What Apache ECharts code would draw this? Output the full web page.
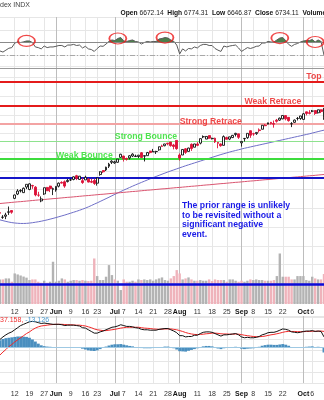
<!DOCTYPE html>
<html>
<head>
<meta charset="utf-8">
<script src="https://cdn.jsdelivr.net/npm/echarts@6/dist/echarts.min.js"></script>
<style>
html,body{margin:0;padding:0;background:#fff;}
#chart{width:324px;height:400px;}
</style>
</head>
<body>
<div id="chart"></div>
<script>
// Trading sessions (2025)
const dates = [
 '05-05','05-06','05-07','05-08','05-09','05-12','05-13','05-14','05-15','05-16',
 '05-19','05-20','05-21','05-22','05-23','05-27','05-28','05-29','05-30','06-02',
 '06-03','06-04','06-05','06-06','06-09','06-10','06-11','06-12','06-13','06-16',
 '06-17','06-18','06-20','06-23','06-24','06-25','06-26','06-27','06-30','07-01',
 '07-02','07-03','07-07','07-08','07-09','07-10','07-11','07-14','07-15','07-16',
 '07-17','07-18','07-21','07-22','07-23','07-24','07-25','07-28','07-29','07-30',
 '07-31','08-01','08-04','08-05','08-06','08-07','08-08','08-11','08-12','08-13',
 '08-14','08-15','08-18','08-19','08-20','08-21','08-22','08-25','08-26','08-27',
 '08-28','08-29','09-02','09-03','09-04','09-05','09-08','09-09','09-10','09-11',
 '09-12','09-15','09-16','09-17','09-18','09-19','09-22','09-23','09-24','09-25',
 '09-26','09-29','09-30','10-01','10-02','10-03','10-06','10-07','10-08','10-09',
 '10-10'
];

const opens = [
 5655,5606,5617,5660,5678,5808,5854,5887,5869,5929,
 5903,5945,5928,5842,5781,5855,5925,5939,5904,5897,
 5938,5978,5985,5987,6005,6010,6050,6010,5997,6005,
 6013,5988,5999,5970,6062,6105,6112,6151,6193,6187,
 6193,6246,6260,6233,6240,6260,6255,6255,6295,6259,
 6264,6313,6305,6307,6326,6368,6370,6397,6410,6378,
 6427,6271,6271,6337,6309,6385,6354,6389,6398,6466,
 6441,6478,6445,6450,6406,6389,6374,6457,6441,6457,
 6490,6497,6401,6445,6456,6530,6498,6499,6539,6546,
 6590,6600,6620,6607,6643,6643,6657,6692,6673,6604,
 6620,6661,6661,6651,6732,6722,6740,6746,6722,6754,
 6672.14
];
const highs = [
 5684,5629,5654,5721,5683,5848,5906,5906,5924,5958,
 5968,5953,5939,5878,5829,5922,5930,5943,5923,5937,
 5978,5990,5999,6016,6021,6043,6059,6046,6027,6050,
 6024,6018,6018,6030,6097,6108,6146,6187,6215,6210,
 6227,6284,6263,6243,6269,6290,6275,6272,6303,6266,
 6304,6316,6336,6316,6360,6381,6390,6401,6410,6390,
 6427,6288,6330,6345,6349,6395,6390,6409,6446,6480,
 6474,6481,6456,6456,6407,6394,6480,6467,6466,6485,
 6508,6497,6416,6453,6502,6533,6508,6513,6555,6592,
 6601,6616,6624,6639,6656,6671,6694,6693,6674,6622,
 6650,6677,6688,6718,6733,6750,6752,6749,6755,6758,
 6774.31
];
const lows = [
 5627,5589,5586,5631,5644,5800,5843,5871,5866,5907,
 5895,5910,5830,5825,5767,5845,5886,5875,5843,5879,
 5925,5966,5921,5978,5994,6001,6003,6005,5963,6005,
 5978,5971,5952,5944,6050,6080,6100,6132,6175,6177,
 6188,6240,6201,6212,6223,6249,6252,6237,6243,6202,
 6263,6286,6303,6282,6316,6360,6364,6375,6360,6331,
 6327,6212,6271,6283,6309,6315,6354,6365,6385,6451,
 6441,6443,6437,6400,6343,6360,6374,6438,6430,6452,
 6469,6443,6361,6415,6444,6454,6476,6486,6511,6546,
 6579,6599,6597,6563,6617,6636,6653,6641,6627,6569,
 6615,6640,6647,6650,6694,6705,6728,6699,6714,6719,
 6646.87
];
const closes = [
 5650,5607,5631,5664,5660,5844,5886,5892,5916,5958,
 5963,5940,5845,5842,5802,5922,5889,5912,5912,5936,
 5970,5971,5939,6000,6006,6038,6022,6045,5977,6033,
 5982,5981,5967,6025,6092,6092,6141,6173,6205,6198,
 6227,6279,6230,6226,6263,6280,6260,6269,6244,6264,
 6297,6297,6306,6309,6359,6363,6389,6390,6371,6362,
 6339,6238,6330,6299,6345,6340,6389,6374,6446,6466,
 6469,6450,6449,6411,6396,6370,6467,6439,6465,6481,
 6502,6460,6416,6448,6502,6482,6495,6512,6532,6588,
 6584,6615,6607,6600,6631,6664,6693,6657,6638,6605,
 6644,6661,6688,6711,6715,6716,6740,6715,6754,6735,
 6734.11
];
// Volume (millions of shares)
const volumes = [
 3450,3450,3590,3590,3130,4290,4150,4000,3850,3700,
 3360,3450,3450,3130,2990,3270,2990,3130,5930,3130,
 3270,3590,3450,3130,3270,3360,3360,3270,3360,3270,
 3220,3270,6390,3920,3360,3360,3830,5460,4060,3450,
 3270,1960,3450,3130,3130,3270,3130,3450,3360,3450,
 3360,3450,3270,3450,3590,3730,3360,3270,3590,3920,
 4760,4290,3450,3590,3730,3450,3270,3270,3360,3270,
 3270,3450,3220,3450,3360,3360,3360,3130,3450,3450,
 3270,3130,3270,3130,3270,3450,3360,3450,3360,3360,
 3270,3270,3270,3360,3920,7090,3830,3830,3830,3450,
 3450,3920,3920,3920,3360,3270,3830,3590,3450,3450,
 4200
];
const sma50 = [
 5578,5570,5562,5555,5549,5545,5542,5540,5540,5541,
 5544,5548,5553,5558,5564,5571,5578,5586,5594,5603,
 5612,5621,5630,5640,5650,5660,5670,5681,5692,5704,
 5717,5731,5746,5760,5775,5790,5805,5820,5836,5851,
 5866,5881,5896,5910,5924,5938,5952,5965,5978,5991,
 6004,6017,6030,6042,6054,6066,6078,6090,6101,6112,
 6123,6134,6145,6156,6166,6176,6186,6196,6206,6216,
 6226,6236,6246,6256,6266,6276,6285,6294,6303,6311,
 6319,6327,6335,6343,6350,6357,6364,6371,6378,6385,
 6392,6399,6406,6413,6420,6427,6434,6441,6448,6455,
 6462,6469,6476,6483,6490,6497,6505,6513,6521,6529,
 6536
];
const sma200 = [
 5753,5756,5759,5762,5765,5768,5771,5773,5776,5779,
 5782,5785,5788,5791,5793,5796,5799,5802,5805,5807,
 5810,5813,5816,5819,5821,5824,5827,5830,5833,5836,
 5838,5841,5844,5847,5850,5852,5855,5858,5861,5864,
 5867,5869,5872,5875,5878,5881,5883,5886,5889,5892,
 5895,5897,5900,5903,5906,5909,5911,5914,5917,5920,
 5923,5925,5928,5931,5934,5937,5939,5942,5945,5948,
 5951,5953,5956,5959,5962,5965,5967,5970,5973,5976,
 5979,5981,5984,5987,5990,5993,5995,5998,6001,6004,
 6007,6009,6012,6015,6018,6021,6023,6026,6029,6032,
 6035,6037,6040,6043,6046,6049,6051,6054,6057,6060,
 6063
];
// RSI(14)
const rsi = [
 56.7,55,58,61,62,69,71,70,71,72.4,
 72.4,70,63,62,60,64.5,62,63,63,64,
 65.3,65.3,63,66,66,67,65.3,66,61.4,64,
 60,59,56,60.6,64.5,64,67.6,71.6,74,73,
 76.3,77.8,72.4,71.6,73,74,71.6,70.8,67.6,70,
 71.6,70.8,71.6,71.6,75.5,76.3,77.8,77,74,71.6,
 66,52,60,56.7,60.6,60,63,61.4,65.3,67,
 67,65.3,65.3,60.6,58,56,64.5,63,64.5,65.3,
 66,61.4,56,59,62,60.6,62,64,64.5,69.2,
 69.2,71.6,70.8,70.8,74,77,77.8,73,67,64,
 67,68.4,70.8,72.4,73,73,74.7,70.8,74,71.6,
 50
];
// MACD(12,26,9)
const macd = [
 18,24,29,33,36,41,46,51,54,57,
 60,61,60,58,56,57,56,55,54,54,
 54,53,51,52,52,52,51,50,46,45,
 41,37,33,33,36,38,41,44,47,48,
 50,53,51,49,49,48,46,45,42,41,
 41,40,40,40,42,43,44,44,41,38,
 34,27,27,24,25,25,28,28,32,35,
 36,36,35,32,29,26,29,29,30,31,
 32,29,24,22,23,22,22,23,25,29,
 31,34,35,35,37,40,43,42,40,36,
 35,34,35,37,38,38,39,37,38,37,
 24.032
];
const signal = [
 -19,-12,-6,1,6,12,17,22,27,32,
 36,41,45,48,50,51,52,53,53.5,54,
 54,54,53.5,53,53,52.5,52,52,51,50,
 48,46,43,41,40,39,39,40,41,42,
 43.5,45,46,47,47,47,47,47,46,45,
 44.5,44,43,42.5,42,42.5,43,43,43,42,
 41,39,37,34.5,32.5,31,30,29.5,30,30.5,
 31.5,32,33,33,32.5,31.5,31,31,30.5,30.5,
 31,30.5,29.5,28,27,26,25,24.5,24.5,25,
 26,27.5,29,30,31.5,33,35,36.5,37,37,
 37,36.5,36.5,36.5,37,37,37.5,37.5,37.5,38,
 37.158
];
const hist = [
 16,19,21,22,23,24,25,25,24.5,24,
 22,18,13,8,4,2,1,0.5,0,0,
 0,-0.5,-2,-1,-1,-0.5,-1,-2,-4,-6,
 -8,-9,-9.5,-8,-5,-2,1,3.5,5.5,6.5,
 6.5,7,5.5,4,2.5,1.5,0,-1,-2.5,-3,
 -3,-3,-2.5,-2,-1,0,1,1,-1,-3,
 -6,-10,-10.5,-11,-9,-7,-5,-3,-1,1.5,
 2.5,2.5,1.5,-1,-3.5,-5,-3,-2,-1,0,
 0.5,-1,-4,-5,-4,-3.5,-3,-1.5,0.5,3,
 4.5,5.5,5.5,5,5,6,7,5.5,3,0,
 -1.5,-2,-1.5,0,0.5,1,1.5,0,0.5,-1,
 -13.126
];

// Date axis labels (months in bold)
const tickLabels = {
 '05-12':'12','05-19':'19','05-27':'27','06-02':'Jun','06-09':'9','06-16':'16','06-23':'23',
 '07-01':'Jul','07-07':'7','07-14':'14','07-21':'21','07-28':'28','08-01':'Aug','08-11':'11',
 '08-18':'18','08-25':'25','09-02':'Sep','09-08':'8','09-15':'15','09-22':'22','10-01':'Oct','10-06':'6'
};
const monthNames = ['Jun','Jul','Aug','Sep','Oct'];

// Support / resistance levels
const levelNames  = ['Top','Weak Retrace','Strong Retrace','Strong Bounce','Weak Bounce',''];
const levelValues = [7050, 6795, 6605, 6415, 6228, 6030];
const levelLabelDates = ['10-02','09-03','08-01','07-01','06-02',null];

// Overbought RSI peaks that are circled
const circledDates = ['05-16','07-02','07-25','09-19','10-07'];
const rsiOverbought = 70;
const rsiMid = 50;

const volumeAverage = 2800;
const headerTitle = 'dex INDX';
const quoteOpen = '6672.14', quoteHigh = '6774.31', quoteLow = '6646.87', quoteClose = '6734.11';
const noteText = 'The prior range is unlikely\nto be revisited without a\nsignificant negative\nevent.';

const FONT = 'Liberation Sans, Arial, sans-serif';
const levelStyles = [
 {color:'#e41b1b', width:2},
 {color:'#e41b1b', width:2},
 {color:'#f3a3a3', width:2},
 {color:'#8ee28e', width:1},
 {color:'#3ddc3d', width:2},
 {color:'#1515c8', width:2}
];
const levelTextColors = ['#ea1a1a','#ea1a1a','#ea1a1a','#22dd22','#22dd22',''];
const levelTextOffsets = [-5.5,-4.5,-2.5,-4.5,-3,0];

const isTick = (idx, val) => tickLabels[val] !== undefined;
const tickDates = dates.filter(d => tickLabels[d] !== undefined);
const splitColors = tickDates.map(d => monthNames.indexOf(tickLabels[d]) >= 0 ? '#bdbdbd' : '#e6e6e6');

function baseXAxis(gridIndex, showLabels, showSplit, margin) {
  return {
    type: 'category', gridIndex, data: dates, boundaryGap: false,
    axisLine: {show: false}, axisTick: {show: false},
    axisLabel: {
      show: showLabels, interval: isTick, fontSize: 7, color: '#333', margin: margin,
      fontFamily: FONT,
      formatter: v => {
        const t = tickLabels[v];
        return monthNames.indexOf(t) >= 0 ? '{m|' + t + '}' : t;
      },
      rich: {m: {fontWeight: 'bold', fontSize: 7, color: '#111', fontFamily: FONT}}
    },
    splitLine: {show: showSplit, interval: isTick, lineStyle: {color: splitColors, width: 1}}
  };
}

const candleData = dates.map((d, i) => [opens[i], closes[i], lows[i], highs[i]]);
const volumeData = volumes.map((v, i) => ({
  value: v,
  itemStyle: {color: (i > 0 && closes[i] < closes[i - 1]) ? '#efb3bb' : '#b3b3b3'}
}));
// overbought band: stacked on the 70 line, only the part of RSI above it
const rsiBase = rsi.map(() => rsiOverbought);
const rsiExcess = rsi.map(v => Math.max(v - rsiOverbought, 0));
const circleData = circledDates.map(d => [d, rsi[dates.indexOf(d)]]);
const levelLabelData = [];
levelNames.forEach((n, k) => {
  if (!n) return;
  levelLabelData.push({
    value: [levelLabelDates[k], levelValues[k]],
    label: {show: true, position: 'right', distance: 0, formatter: n,
      color: levelTextColors[k], fontSize: 8.7, fontWeight: 'bold', fontFamily: FONT,
      offset: [0, levelTextOffsets[k]]}
  });
});

const hiddenY = {axisLabel: {show: false}, axisLine: {show: false}, axisTick: {show: false}, position: 'right'};

const option = {
  animation: false,
  backgroundColor: '#fff',
  grid: [
    {left: -1.9, right: -1.9, top: 17, height: 51},
    {left: -1.9, right: -1.9, top: 66.13, height: 236},
    {left: -1.9, right: -1.9, top: 247, height: 57},
    {left: -1.9, right: -1.9, top: 316, height: 67}
  ],
  xAxis: [
    Object.assign(baseXAxis(0, false, true, 4), {axisLine: {show: true, lineStyle: {color: '#9a9a9a'}}}),
    baseXAxis(1, true, true, 6),
    baseXAxis(2, false, false, 4),
    baseXAxis(3, true, true, 7.5)
  ],
  yAxis: [
    Object.assign({gridIndex: 0, min: 30, max: 110, interval: 20,
     splitLine: {lineStyle: {color: '#e6e6e6'}}}, hiddenY),
    Object.assign({gridIndex: 1, min: 4700, max: 7220, interval: 200,
     splitLine: {lineStyle: {color: '#e8e8e8'}}}, hiddenY),
    Object.assign({gridIndex: 2, min: 0, max: 8000, splitLine: {show: false}}, hiddenY),
    Object.assign({gridIndex: 3, min: -85.7, max: 73.8, interval: 26.2,
     splitLine: {lineStyle: {color: '#e6e6e6'}}}, hiddenY)
  ],
  series: [
    {name: 'RSI', type: 'line', xAxisIndex: 0, yAxisIndex: 0, data: rsi,
     symbol: 'none', lineStyle: {color: '#5a5a5a', width: 1}, z: 4,
     markLine: {silent: true, symbol: ['none', 'none'], label: {show: false},
       data: [
         {yAxis: rsiOverbought, lineStyle: {color: '#8a8a8a', width: 1, type: 'solid'}},
         {yAxis: rsiMid, lineStyle: {color: '#a8a8a8', width: 1, type: [5, 2, 1, 2]}}
       ]}},
    {name: 'RSI base', type: 'line', xAxisIndex: 0, yAxisIndex: 0, data: rsiBase, stack: 'ob',
     symbol: 'none', lineStyle: {opacity: 0}, z: 3},
    {name: 'RSI overbought', type: 'line', xAxisIndex: 0, yAxisIndex: 0, data: rsiExcess, stack: 'ob',
     symbol: 'none', lineStyle: {opacity: 0}, areaStyle: {color: '#4b7f4b', opacity: 1}, z: 3},
    {name: 'Peaks', type: 'scatter', xAxisIndex: 0, yAxisIndex: 0, data: circleData,
     symbol: 'circle', symbolSize: [17, 11],
     itemStyle: {color: 'rgba(0,0,0,0)', borderColor: '#ec1c1c', borderWidth: 1.5}, z: 6},
    {name: 'Price', type: 'candlestick', xAxisIndex: 1, yAxisIndex: 1, data: candleData,
     barWidth: 2.4,
     itemStyle: {color: '#ffffff', color0: '#dc1238', borderColor: '#111', borderColor0: '#dc1238', borderWidth: 0.9},
     z: 5,
     markLine: {silent: true, symbol: ['none', 'none'], label: {show: false},
       data: levelValues.map((v, k) => ({yAxis: v, lineStyle: {color: levelStyles[k].color, width: levelStyles[k].width, type: 'solid'}}))}},
    {name: 'SMA50', type: 'line', xAxisIndex: 1, yAxisIndex: 1, data: sma50,
     symbol: 'none', lineStyle: {color: '#6f6fc7', width: 1}, z: 3},
    {name: 'SMA200', type: 'line', xAxisIndex: 1, yAxisIndex: 1, data: sma200,
     symbol: 'none', lineStyle: {color: '#d9546f', width: 1}, z: 3},
    {name: 'Levels', type: 'scatter', xAxisIndex: 1, yAxisIndex: 1, data: levelLabelData,
     symbolSize: 0, z: 7},
    {name: 'Volume', type: 'bar', xAxisIndex: 2, yAxisIndex: 2, data: volumeData,
     barWidth: 2.4, z: 2,
     markLine: {silent: true, symbol: ['none', 'none'], label: {show: false},
       data: [{yAxis: volumeAverage, lineStyle: {color: '#0b0bd8', width: 2.5, type: 'solid'}}]}},
    {name: 'Histogram', type: 'bar', xAxisIndex: 3, yAxisIndex: 3, data: hist,
     barWidth: 2.9, itemStyle: {color: '#4a8fbf'}, z: 2,
     markLine: {silent: true, symbol: ['none', 'none'], label: {show: false},
       data: [{yAxis: 0, lineStyle: {color: '#9fc9e3', width: 1, type: 'solid'}}]}},
    {name: 'MACD', type: 'line', xAxisIndex: 3, yAxisIndex: 3, data: macd,
     symbol: 'none', lineStyle: {color: '#111', width: 1}, z: 4},
    {name: 'Signal', type: 'line', xAxisIndex: 3, yAxisIndex: 3, data: signal,
     symbol: 'none', lineStyle: {color: '#f02828', width: 1}, z: 3}
  ],
  graphic: [
    {type: 'text', x: 0, y: 5, style: {text: headerTitle, fontSize: 7, fontFamily: FONT, fill: '#444', verticalAlign: 'middle'}},
    {type: 'text', x: 120.5, y: 13, style: {
      text: '{b|Open} ' + quoteOpen + '  {b|High} ' + quoteHigh + '  {b|Low} ' + quoteLow + '  {b|Close} ' + quoteClose + '  {b|Volume}',
      fontSize: 6.7, fontFamily: FONT, fill: '#222', verticalAlign: 'middle',
      rich: {b: {fontWeight: 'bold', fontSize: 6.7, fontFamily: FONT, fill: '#111'}}}},
    {type: 'text', x: 182, y: 201.3, z: 100, style: {text: noteText, fontSize: 8.7, fontWeight: 'bold', fontFamily: FONT, fill: '#1a1ae6', lineHeight: 9.5, verticalAlign: 'top'}},
    {type: 'text', x: 0, y: 320.5, z: 100, style: {
      text: '{r|' + signal[signal.length - 1].toFixed(3) + ',} {h|' + hist[hist.length - 1].toFixed(3) + '}',
      fontSize: 7, fontFamily: FONT, fill: '#111', verticalAlign: 'middle',
      rich: {r: {fill: '#f03030', fontSize: 7, fontFamily: FONT}, h: {fill: '#4a9ad0', fontSize: 7, fontFamily: FONT}}}}
  ]
};

const chart = echarts.init(document.getElementById('chart'), null, {renderer: 'canvas'});
chart.setOption(option);
</script>
</body>
</html>
